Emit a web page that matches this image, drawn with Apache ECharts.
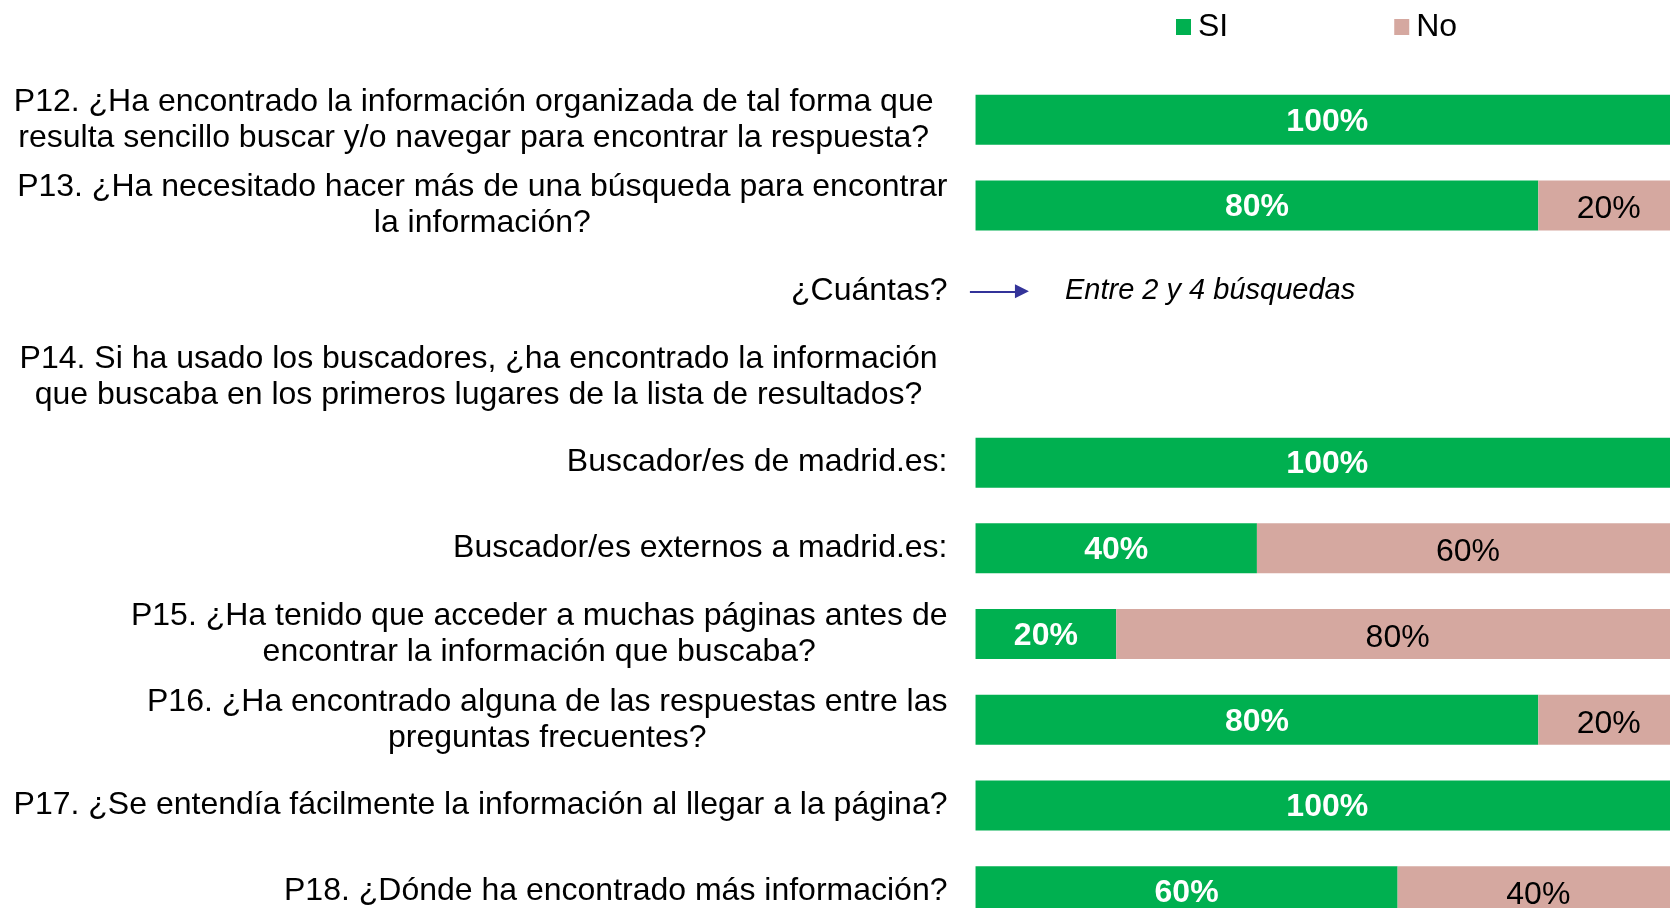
<!DOCTYPE html>
<html lang="es">
<head>
<meta charset="utf-8">
<title>Búsqueda de información en madrid.es</title>
<script src="https://cdn.jsdelivr.net/npm/echarts@6/dist/echarts.min.js"></script>
<style>
  html, body { margin: 0; padding: 0; background: #ffffff; }
  #chart { width: 1670px; height: 908px; }
</style>
</head>
<body>
<div id="chart"></div>
<script>
// Preguntas (una fila por categoría, de arriba abajo)
const CUANTAS = '¿Cuántas?';
const categories = [
  'P12. ¿Ha encontrado la información organizada de tal forma que\nresulta sencillo buscar y/o navegar para encontrar la respuesta?',
  'P13. ¿Ha necesitado hacer más de una búsqueda para encontrar\nla información?',
  CUANTAS,
  'P14. Si ha usado los buscadores, ¿ha encontrado la información\nque buscaba en los primeros lugares de la lista de resultados?',
  'Buscador/es de madrid.es:',
  'Buscador/es externos a madrid.es:',
  'P15. ¿Ha tenido que acceder a muchas páginas antes de\nencontrar la información que buscaba?',
  'P16. ¿Ha encontrado alguna de las respuestas entre las\npreguntas frecuentes?',
  'P17. ¿Se entendía fácilmente la información al llegar a la página?',
  'P18. ¿Dónde ha encontrado más información?'
];

// Porcentaje de respuestas (null = fila sin barra)
const siValues = [100, 80, null, null, 100, 40, 20, 80, 100, 60];
const noValues = [0, 20, null, null, 0, 60, 80, 20, 0, 40];

// Respuesta a "¿Cuántas?" y extremos de la flecha (en % del eje)
const cuantasAnswer = 'Entre 2 y 4 búsquedas';
const cuantasArrow = [-0.8, 6.6];

// Separación extra a la derecha de algunos bloques de texto
const labelRightPad = [14, 0, 0, 10, 0, 0, 0, 0, 0, 0];

const legendNames = ['SI', 'No'];

const GREEN = '#00B050';
const PINK = '#D5A8A0';
const ARROW = '#333399';
const FONT = '"Liberation Sans", Arial, sans-serif';

const chart = echarts.init(document.getElementById('chart'), null, { renderer: 'canvas' });

chart.setOption({
  animation: false,
  backgroundColor: '#ffffff',
  textStyle: { fontFamily: FONT },
  legend: {
    data: legendNames,
    left: 1171,
    top: 6,
    icon: 'rect',
    itemWidth: 15,
    itemHeight: 16,
    itemGap: 166,
    selectedMode: false,
    textStyle: { fontSize: 32, color: '#000', fontFamily: FONT, padding: [0, 0, 0, 2] }
  },
  grid: {
    left: 968.5, top: 77, width: 710.5, height: 857,
    containLabel: false,
    outerBoundsMode: 'none'
  },
  xAxis: {
    type: 'value',
    min: -1,
    max: 100,
    show: false
  },
  yAxis: {
    type: 'category',
    inverse: true,
    data: categories.map((c, i) => ({
      value: c,
      textStyle: { padding: [0, labelRightPad[i], 0, 0] }
    })),
    axisLine: { show: false },
    axisTick: { show: false },
    splitLine: { show: false },
    axisLabel: {
      margin: 21,
      color: '#000',
      fontSize: 32,
      lineHeight: 36,
      fontFamily: FONT,
      formatter: function (value) {
        return value.split('\n').map(line => '{c|' + line + '}').join('\n');
      },
      rich: {
        c: { align: 'center', fontSize: 32, lineHeight: 36, color: '#000', fontFamily: FONT }
      }
    }
  },
  series: [
    {
      name: 'SI',
      type: 'bar',
      stack: 'total',
      barWidth: 50,
      data: siValues,
      itemStyle: { color: GREEN },
      label: {
        show: true,
        position: 'inside',
        offset: [0, 2],
        color: '#fff',
        fontWeight: 'bold',
        fontSize: 32,
        fontFamily: FONT,
        formatter: p => (p.value ? p.value + '%' : '')
      },
      markLine: {
        silent: true,
        symbol: ['none', 'triangle'],
        symbolSize: [14, 14],
        lineStyle: { color: ARROW, width: 2, type: 'solid' },
        itemStyle: { color: ARROW },
        label: {
          show: true,
          position: 'end',
          distance: 43,
          formatter: cuantasAnswer,
          color: '#000',
          fontStyle: 'italic',
          fontSize: 29,
          fontFamily: FONT
        },
        data: [[
          { coord: [cuantasArrow[0], CUANTAS] },
          { coord: [cuantasArrow[1], CUANTAS] }
        ]]
      }
    },
    {
      name: 'No',
      type: 'bar',
      stack: 'total',
      barWidth: 50,
      data: noValues,
      itemStyle: { color: PINK },
      label: {
        show: true,
        position: 'inside',
        offset: [0, 4],
        color: '#000',
        fontSize: 32,
        fontFamily: FONT,
        formatter: p => (p.value ? p.value + '%' : '')
      }
    }
  ]
});
</script>
</body>
</html>
